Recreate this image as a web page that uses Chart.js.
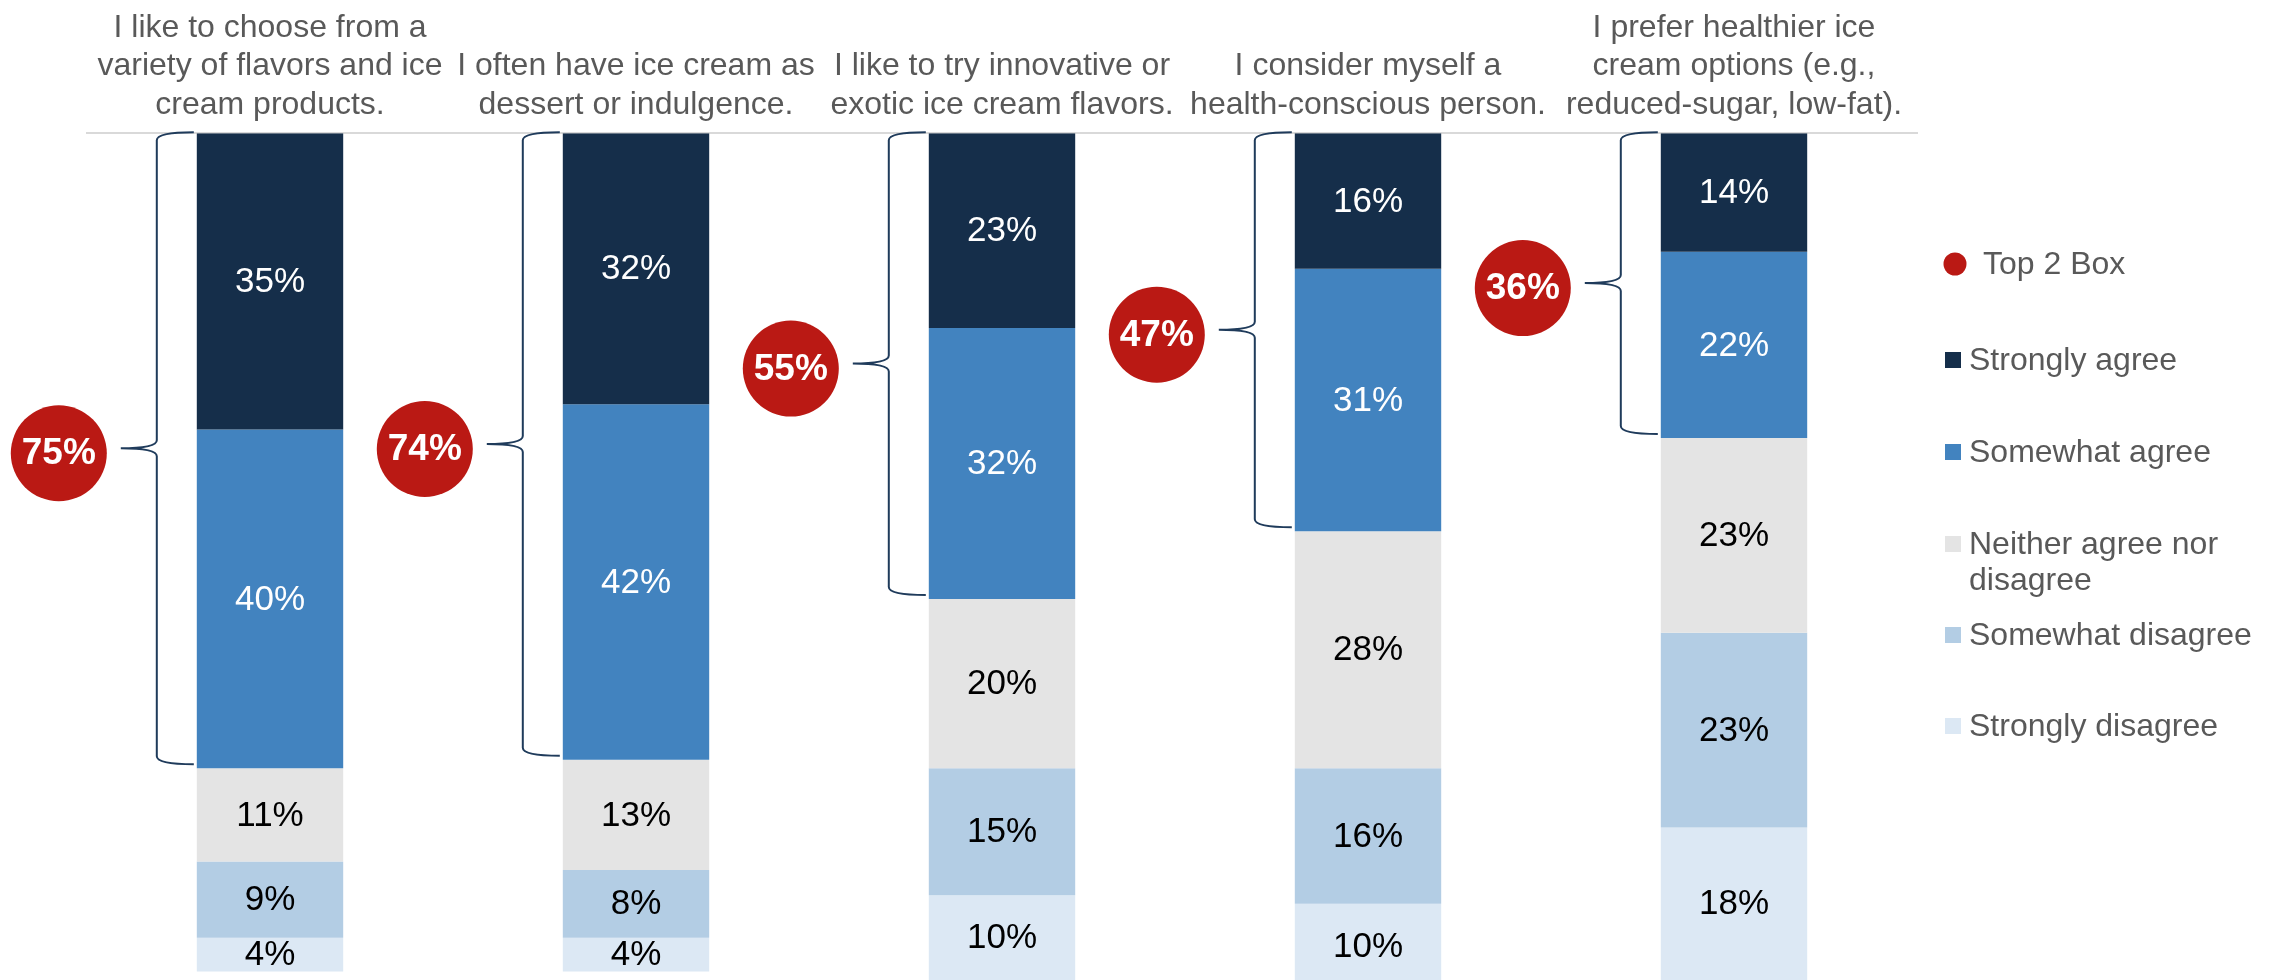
<!DOCTYPE html>
<html lang="en">
<head>
<meta charset="UTF-8">
<title>Ice cream attitudes</title>
<script src="https://cdn.jsdelivr.net/npm/chart.js"></script>
<style>
  html, body { margin: 0; padding: 0; background: #fff; }
  #wrap { width: 2277px; height: 980px; }
</style>
</head>
<body>
<div id="wrap"><canvas id="chart" width="2277" height="980"></canvas></div>
<script>
// statements (one bar each), split into lines
const statements = [
  ['I like to choose from a', 'variety of flavors and ice', 'cream products.'],
  ['I often have ice cream as', 'dessert or indulgence.'],
  ['I like to try innovative or', 'exotic ice cream flavors.'],
  ['I consider myself a', 'health-conscious person.'],
  ['I prefer healthier ice', 'cream options (e.g.,', 'reduced-sugar, low-fat).']
];

// answer shares in %, top of the bar first
const stronglyAgree    = [35, 32, 23, 16, 14];
const somewhatAgree    = [40, 42, 32, 31, 22];
const neither          = [11, 13, 20, 28, 23];
const somewhatDisagree = [9, 8, 15, 16, 23];
const stronglyDisagree = [4, 4, 10, 10, 18];
const top2Box          = [75, 74, 55, 47, 36];

const seriesNames = ['Strongly agree', 'Somewhat agree', 'Neither agree nor disagree', 'Somewhat disagree', 'Strongly disagree'];
const legendLines = [['Strongly agree'], ['Somewhat agree'], ['Neither agree nor', 'disagree'], ['Somewhat disagree'], ['Strongly disagree']];
const colors = ['#152e4a', '#4283bf', '#e4e4e4', '#b3cde4', '#dce8f4'];
const labelColors = ['#ffffff', '#ffffff', '#000000', '#000000', '#000000'];
const RED = '#ba1914';
const FONT = '"Liberation Sans", Arial, sans-serif';

const seriesData = [stronglyAgree, somewhatAgree, neither, somewhatDisagree, stronglyDisagree];

// value text centred in each segment
const segmentLabels = {
  id: 'segmentLabels',
  afterDatasetsDraw(chart) {
    const ctx = chart.ctx;
    ctx.save();
    ctx.font = '35px ' + FONT;
    ctx.textAlign = 'center';
    ctx.textBaseline = 'middle';
    chart.data.datasets.forEach((ds, di) => {
      const meta = chart.getDatasetMeta(di);
      ctx.fillStyle = labelColors[di];
      meta.data.forEach((bar, i) => {
        const mid = (bar.y + bar.base) / 2;
        ctx.fillText(ds.data[i] + '%', bar.x, mid + 1);
      });
    });
    ctx.restore();
  }
};

// brace over the two agree segments plus the red Top 2 Box badge
const topBoxBraces = {
  id: 'topBoxBraces',
  afterDraw(chart) {
    const ctx = chart.ctx;
    const y = chart.scales.y;
    const m0 = chart.getDatasetMeta(0);
    ctx.save();
    m0.data.forEach((bar, i) => {
      const left = bar.x - bar.width / 2;
      const top = y.getPixelForValue(0) - 1;
      const bot = y.getPixelForValue(stronglyAgree[i] + somewhatAgree[i]) - 4;
      const mid = (top + bot) / 2;
      const xt = left - 3, xv = left - 40, xp = left - 76, r = 8;
      ctx.beginPath();
      ctx.moveTo(xt, top);
      ctx.quadraticCurveTo(xv, top, xv, top + r);
      ctx.lineTo(xv, mid - r);
      ctx.quadraticCurveTo(xv, mid, xp, mid);
      ctx.quadraticCurveTo(xv, mid, xv, mid + r);
      ctx.lineTo(xv, bot - r);
      ctx.quadraticCurveTo(xv, bot, xt, bot);
      ctx.strokeStyle = '#1f3b5b';
      ctx.lineWidth = 2;
      ctx.stroke();

      const cx = left - 138, cy = mid + 5;
      ctx.beginPath();
      ctx.arc(cx, cy, 48, 0, Math.PI * 2);
      ctx.fillStyle = RED;
      ctx.fill();
      ctx.fillStyle = '#ffffff';
      ctx.font = 'bold 37px ' + FONT;
      ctx.textAlign = 'center';
      ctx.textBaseline = 'middle';
      ctx.fillText(top2Box[i] + '%', cx, cy + 1);
    });
    ctx.restore();
  }
};

// legend column on the right
const sideLegend = {
  id: 'sideLegend',
  afterDraw(chart) {
    const ctx = chart.ctx;
    ctx.save();
    ctx.font = '32px ' + FONT;
    ctx.textBaseline = 'middle';
    ctx.textAlign = 'left';

    ctx.fillStyle = RED;
    ctx.beginPath();
    ctx.arc(1955, 264, 11.5, 0, Math.PI * 2);
    ctx.fill();
    ctx.fillStyle = '#595959';
    ctx.fillText('Top 2 Box', 1983, 265);

    const rows = [360, 452, 544, 635, 726];
    legendLines.forEach((lines, k) => {
      ctx.fillStyle = colors[k];
      ctx.fillRect(1945, rows[k] - 8, 16, 16);
      ctx.fillStyle = '#595959';
      lines.forEach((t, j) => ctx.fillText(t, 1969, rows[k] + 1 + j * 36));
    });
    ctx.restore();
  }
};

new Chart(document.getElementById('chart'), {
  type: 'bar',
  data: {
    labels: statements,
    datasets: seriesData.map((d, k) => ({
      label: seriesNames[k],
      data: d,
      backgroundColor: colors[k],
      borderWidth: 0,
      categoryPercentage: 0.8,
      barPercentage: 0.5
    }))
  },
  options: {
    responsive: false,
    animation: false,
    layout: { padding: { left: 87, right: 360, top: 0, bottom: 0 } },
    scales: {
      x: {
        position: 'top',
        stacked: true,
        grid: { display: false, drawTicks: false },
        border: { display: true, color: '#d9d9d9', width: 2 },
        ticks: {
          autoSkip: false,
          maxRotation: 0,
          minRotation: 0,
          padding: 9,
          color: '#595959',
          font: { family: FONT, size: 32, lineHeight: 1.2 }
        }
      },
      y: {
        display: false,
        stacked: true,
        reverse: true,
        min: 0,
        max: 100
      }
    },
    plugins: {
      legend: { display: false },
      tooltip: { enabled: false }
    }
  },
  plugins: [segmentLabels, topBoxBraces, sideLegend]
});
</script>
</body>
</html>
